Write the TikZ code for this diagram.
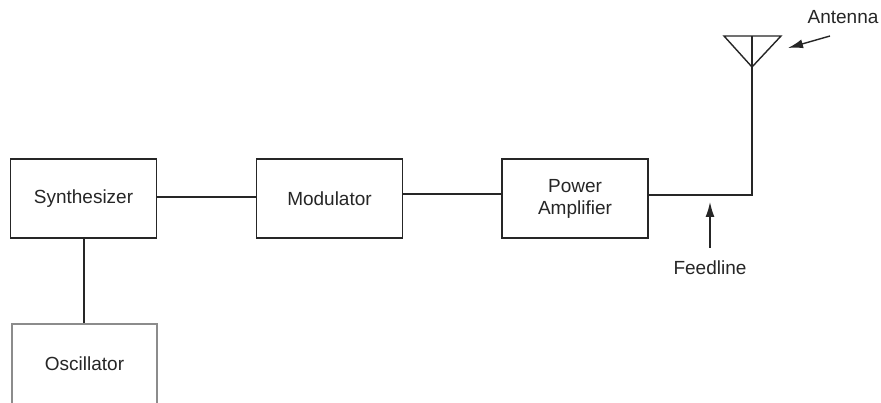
\documentclass[tikz,border=0pt]{standalone}
\usepackage{fontspec}
\setmainfont{Liberation Sans}
\usetikzlibrary{arrows.meta}
\begin{document}
\begin{tikzpicture}[x=1pt,y=-1pt,
  block/.style={draw=black!85,line width=1.4pt,rectangle,inner sep=0pt,
    minimum width=146pt,minimum height=79pt,align=center,
    font=\fontsize{19}{22}\selectfont,text=black!85},
  wire/.style={draw=black!85,line width=1.4pt},
  pointer/.style={draw=black!85,line width=1.4pt,-{Latex[length=15pt,width=9pt]}},
  tag/.style={font=\fontsize{19}{22}\selectfont,text=black!85,inner sep=0pt}]
\clip (0,0) rectangle (881,403);
\fill[white] (0,0) rectangle (881,403);

% signal chain
\node[block] (synth) at (83.5,198.5) {Synthesizer};
\node[block] (mod) at (329.5,198.5) {Modulator};
\node[block] (amp) at (575,198.5) {Power\\Amplifier};
\node[block,draw=black!45,minimum width=145pt,minimum height=80pt] (osc) at (84.5,364) {Oscillator};

\draw[wire] (synth.east |- 0,197) -- (mod.west |- 0,197);
\draw[wire] (mod.east |- 0,194) -- (amp.west |- 0,194);
\draw[wire] (synth.south -| 84,0) -- (osc.north -| 84,0);

% feedline and antenna
\coordinate (bend) at (752,195);
\coordinate (antbase) at (752,36);
\draw[wire] (amp.east |- bend) -- (bend) -- (antbase);
\draw[wire,line join=miter] (724,36) -- (781,36) -- (752,67) -- cycle;

% labels with pointers
\node[tag] (feedlbl) at (710,268) {Feedline};
\coordinate (feedtail) at (710,248);
\coordinate (feedhead) at (710,202);
\draw[pointer] (feedtail) -- (feedhead);

\node[tag] (antlbl) at (843,17) {Antenna};
\coordinate (anttail) at (830,36);
\coordinate (anthead) at (788,48);
\draw[pointer] (anttail) -- (anthead);
\end{tikzpicture}
\end{document}
